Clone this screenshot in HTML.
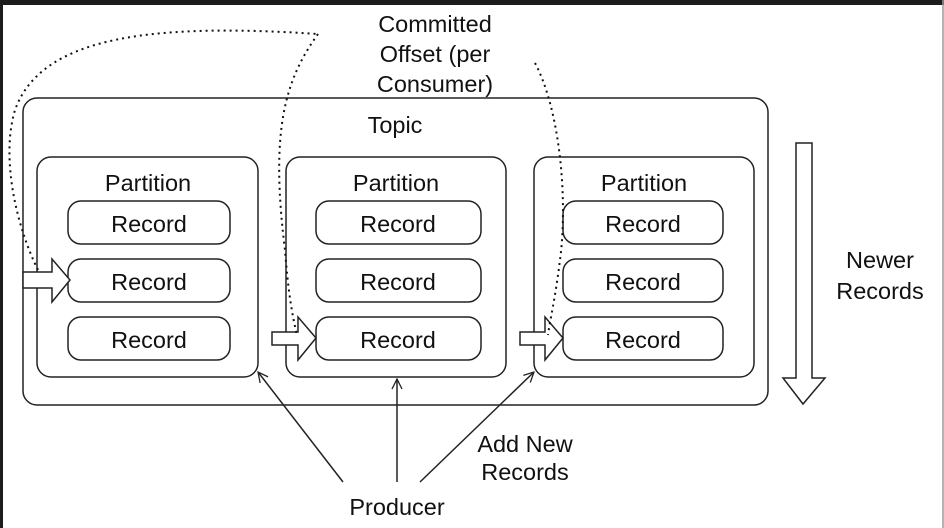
<!DOCTYPE html>
<html><head><style>
html,body{margin:0;padding:0;background:#fff;}
svg{display:block;}
text{font-family:"Liberation Sans",sans-serif;font-size:23.5px;fill:#111;text-anchor:middle;}
</style></head><body>
<svg width="944" height="528" viewBox="0 0 944 528" xmlns="http://www.w3.org/2000/svg">
<rect x="0" y="0" width="944" height="528" fill="#fff"/>
<rect x="0" y="0" width="944" height="5" fill="#1c1c1e"/>
<rect x="0" y="0" width="3" height="528" fill="#1c1c1e"/>
<line x1="943" y1="0" x2="943" y2="528" stroke="#999" stroke-width="1.5"/>
<defs><marker id="ah" markerWidth="12" markerHeight="12" refX="11" refY="6" orient="auto" markerUnits="userSpaceOnUse"><path d="M1,1 L11,6 L1,11" fill="none" stroke="#222" stroke-width="1.3"/></marker></defs>
<g fill="none" stroke="#222" stroke-width="1.5">
<rect x="23" y="98" width="745" height="307" rx="14"/>
<rect x="37" y="157" width="221" height="220" rx="14"/>
<rect x="286" y="157" width="220" height="220" rx="14"/>
<rect x="534" y="157" width="220" height="220" rx="14"/>
<rect x="68" y="201" width="162" height="43" rx="13"/>
<rect x="68" y="259" width="162" height="43" rx="13"/>
<rect x="68" y="317" width="162" height="43" rx="13"/>
<rect x="316" y="201" width="165" height="43" rx="13"/>
<rect x="316" y="259" width="165" height="43" rx="13"/>
<rect x="316" y="317" width="165" height="43" rx="13"/>
<rect x="563" y="201" width="160" height="43" rx="13"/>
<rect x="563" y="259" width="160" height="43" rx="13"/>
<rect x="563" y="317" width="160" height="43" rx="13"/>
<path d="M23,272 L52,272 L52,259 L70,280 L52,302 L52,288 L23,288 Z" fill="#fff"/>
<path d="M272,332 L298,332 L298,317 L316,338 L298,360 L298,345 L272,345 Z" fill="#fff"/>
<path d="M520,332 L545,332 L545,317 L563,338 L545,360 L545,345 L520,345 Z" fill="#fff"/>
<path d="M796,143 L812,143 L812,378 L825,378 L803,404 L783,378 L796,378 Z" fill="#fff"/>
<line x1="343" y1="482" x2="258" y2="372" marker-end="url(#ah)"/>
<line x1="397" y1="482" x2="397" y2="379" marker-end="url(#ah)"/>
<line x1="420" y1="482" x2="534" y2="372" marker-end="url(#ah)"/>
</g>
<g fill="none" stroke="#111" stroke-width="2" stroke-dasharray="2,4">
<path d="M38,270 C18,230 0,160 15,110 C40,40 140,22 318,34"/>
<path d="M318,34 C285,80 270,130 285,250 C288,290 292,315 297,335"/>
<path d="M535,63 C560,110 568,200 560,260 C555,300 550,320 548,335"/>
</g>
<text x="435" y="32">Committed</text>
<text x="435" y="62">Offset (per</text>
<text x="435" y="92">Consumer)</text>
<text x="395" y="133">Topic</text>
<text x="148" y="191">Partition</text>
<text x="396" y="191">Partition</text>
<text x="644" y="191">Partition</text>
<text x="149" y="232">Record</text>
<text x="149" y="290">Record</text>
<text x="149" y="348">Record</text>
<text x="398" y="232">Record</text>
<text x="398" y="290">Record</text>
<text x="398" y="348">Record</text>
<text x="643" y="232">Record</text>
<text x="643" y="290">Record</text>
<text x="643" y="348">Record</text>
<text x="880" y="268">Newer</text>
<text x="880" y="299">Records</text>
<text x="525" y="452">Add New</text>
<text x="525" y="480">Records</text>
<text x="397" y="515">Producer</text>
</svg>
</body></html>
